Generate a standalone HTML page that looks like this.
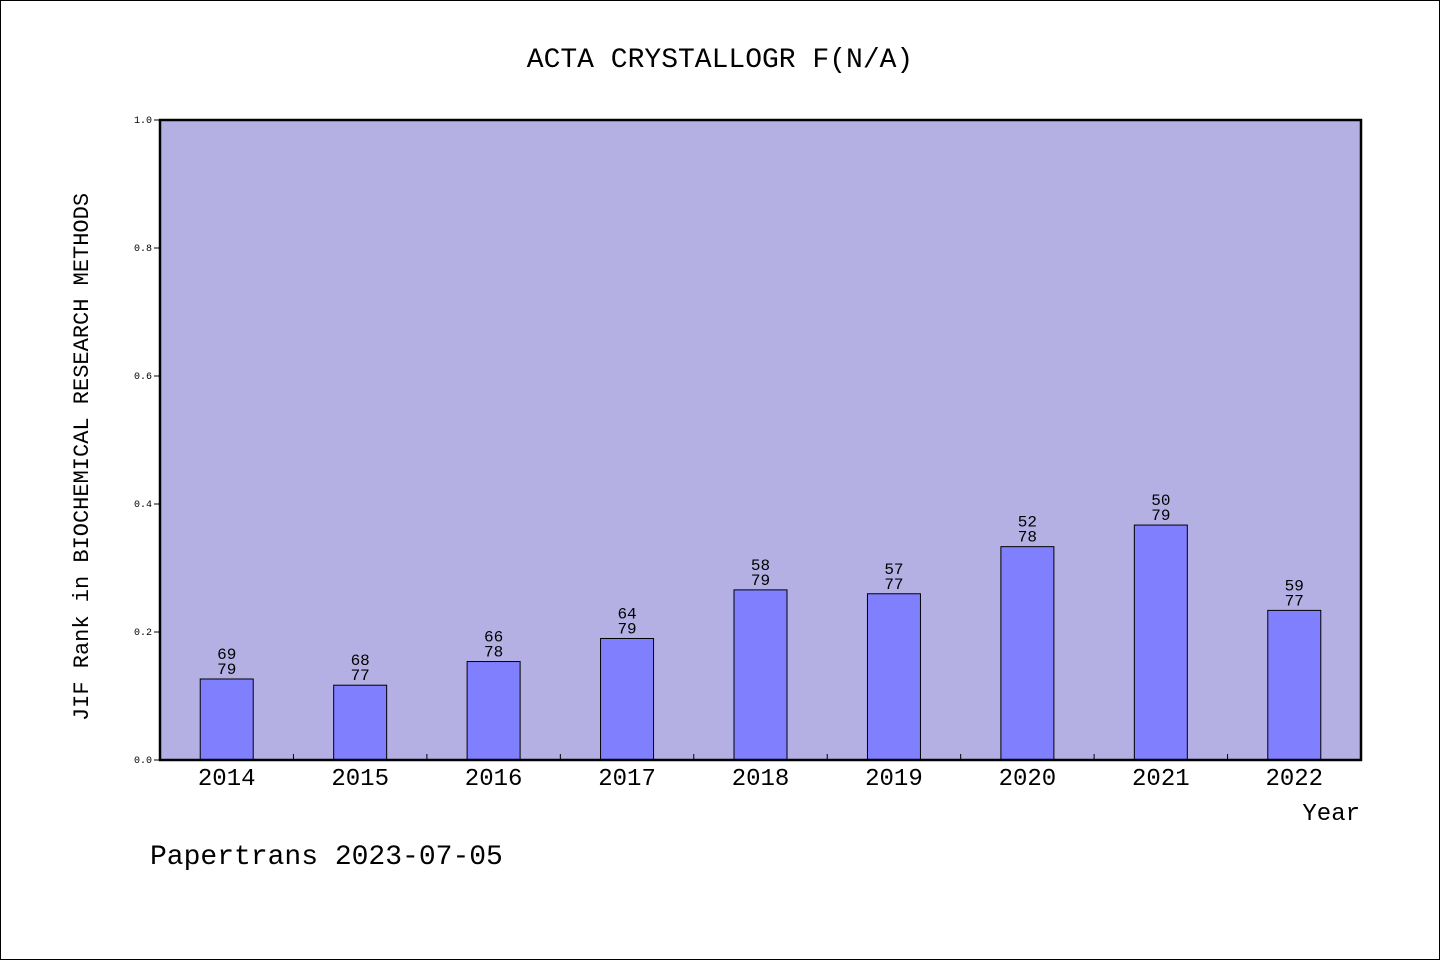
<!DOCTYPE html>
<html><head><meta charset="utf-8"><style>
html,body{margin:0;padding:0;background:#fff}
svg{display:block}
text{font-family:"WenQuanYi Zen Hei","Liberation Mono",monospace;fill:#000}
</style></head><body>
<svg id="chart" width="1440" height="960" xmlns="http://www.w3.org/2000/svg">
<rect x="0.5" y="0.5" width="1439" height="959" fill="#fff" stroke="#000"/>
<text x="720" y="67" font-size="28" text-anchor="middle">ACTA CRYSTALLOGR F(N/A)</text>
<rect x="160" y="120" width="1201" height="640" fill="#b5b0e3"/>
<g id="yaxis"></g>
<g id="bars"></g>
<g id="xaxis"></g>
<rect x="160" y="120" width="1201" height="640" fill="none" stroke="#000" stroke-width="2.5"/>
<text x="88" y="457" font-size="22" text-anchor="middle" transform="rotate(-90 88 457)">JIF Rank in BIOCHEMICAL RESEARCH METHODS</text>
<text x="1360" y="820" font-size="24" text-anchor="end">Year</text>
<text x="150" y="864" font-size="28">Papertrans 2023-07-05</text>
</svg>
<script>
const years = ["2014","2015","2016","2017","2018","2019","2020","2021","2022"];
const ranks = [69,68,66,64,58,57,52,50,59];
const totals = [79,77,78,79,79,77,78,79,77];
const yTicks = [0,0.2,0.4,0.6,0.8,1.0];
const yTickLabels = ["0.0","0.2","0.4","0.6","0.8","1.0"];

const NS="http://www.w3.org/2000/svg";
const X0=160,X1=1361,Y0=760,Y1=120;
const band=(X1-X0)/years.length;
const xc=i=>X0+band*(i+0.5);
const y=v=>Y0-(Y0-Y1)*v;
function mk(tag,attrs,parent,txt){const e=document.createElementNS(NS,tag);for(const k in attrs)e.setAttribute(k,attrs[k]);if(txt!==undefined)e.textContent=txt;parent.appendChild(e);return e;}
const ya=document.getElementById('yaxis'),bg=document.getElementById('bars'),xa=document.getElementById('xaxis');
yTicks.forEach((t,i)=>{
  const l=mk('line',{x1:X0-6,x2:X0,y1:y(t),y2:y(t),stroke:'#000'},ya);
  
  
  const tx=mk('text',{x:X0-8,y:y(t)+3,'font-size':10,'text-anchor':'end'},ya,yTickLabels[i]);
  
  
});
years.forEach((yr,i)=>{
  const v=(totals[i]-ranks[i])/totals[i];
  const bw=53;
  const r=mk('rect',{x:xc(i)-bw/2,y:y(v),width:bw,height:Y0-y(v),fill:'#8080ff',stroke:'#000','stroke-width':1},bg);
  
  
  const t1=mk('text',{x:xc(i),y:y(v)-20,'font-size':16,'text-anchor':'middle'},bg,ranks[i]);
  
  
  const t2=mk('text',{x:xc(i),y:y(v)-5,'font-size':16,'text-anchor':'middle'},bg,totals[i]);
  
  
  const xl=mk('text',{x:xc(i),y:785,'font-size':24,'text-anchor':'middle'},xa,yr);
  
  
  if(i>0){const tk=mk('line',{x1:X0+band*i,x2:X0+band*i,y1:Y0,y2:Y0-6,stroke:'#000'},xa);
  
  }
});
</script>
</body></html>
